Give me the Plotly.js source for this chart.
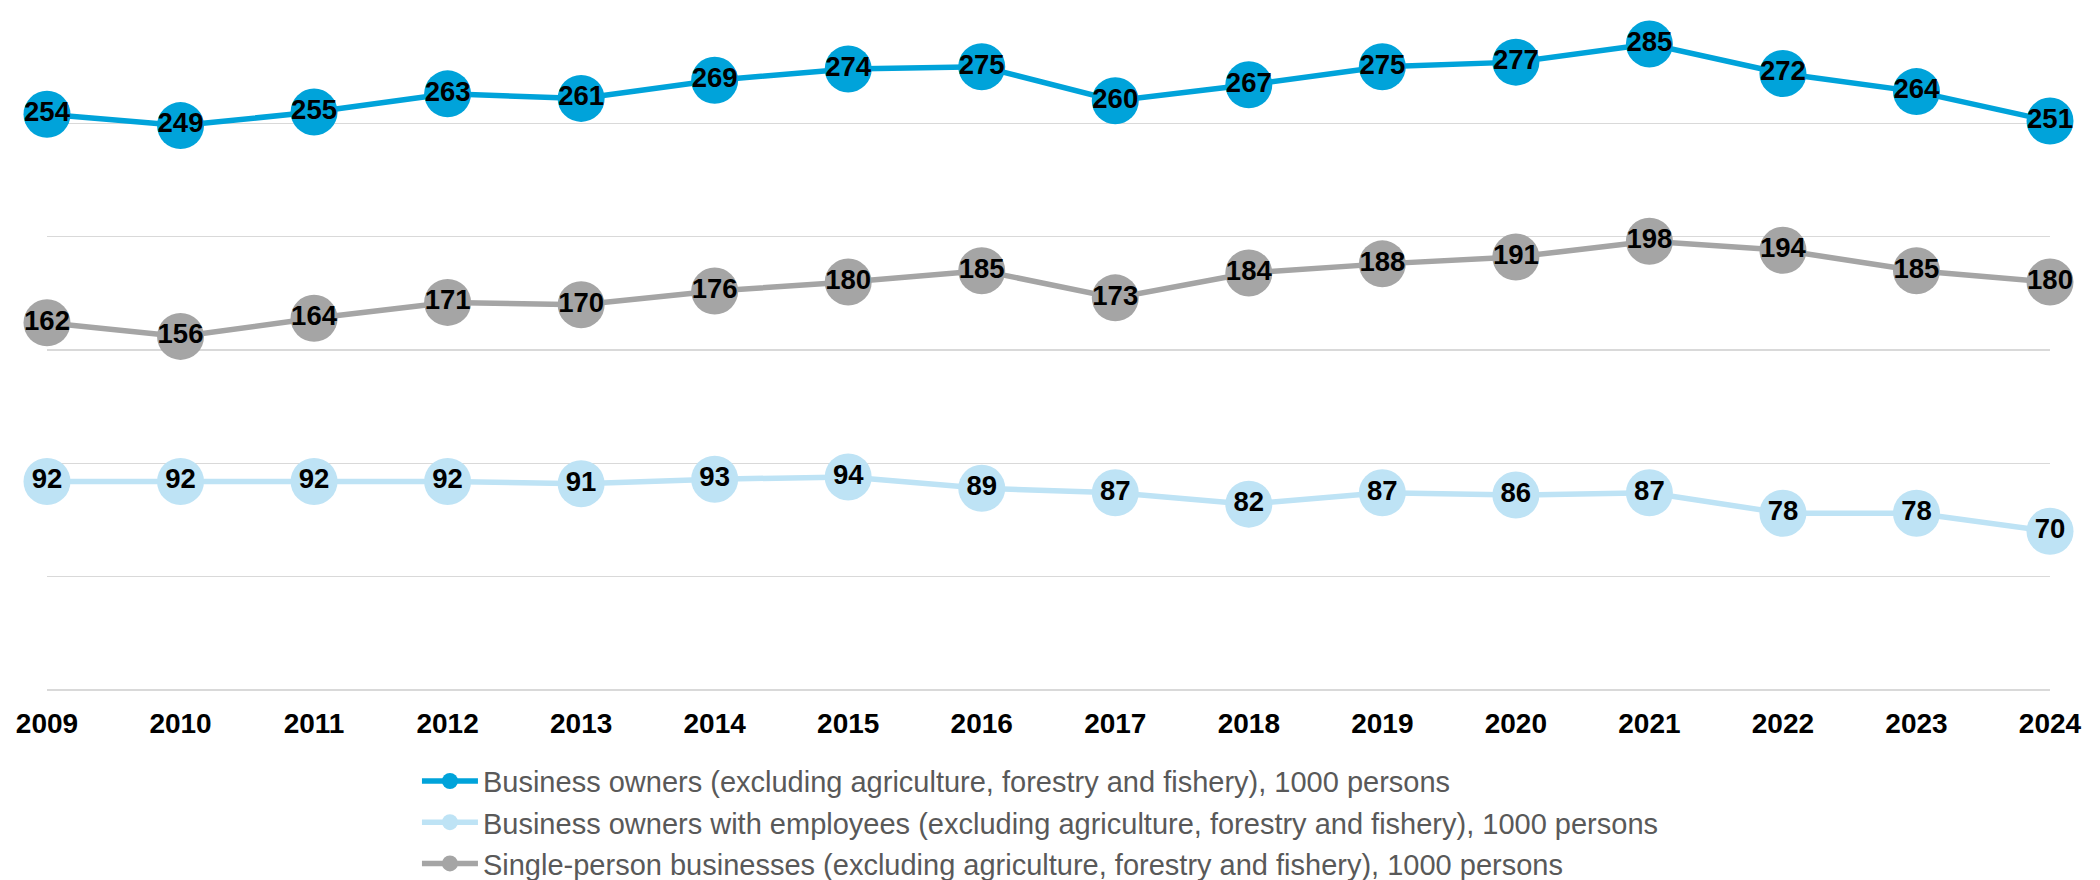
<!DOCTYPE html>
<html>
<head>
<meta charset="utf-8">
<script src="https://cdn.plot.ly/plotly-3.0.1.min.js"></script>
<style>
  html, body { margin: 0; padding: 0; background: #ffffff; }
  #chart { width: 2100px; height: 880px; }
</style>
</head>
<body>
<div id="chart"></div>
<script>
const years = [2009, 2010, 2011, 2012, 2013, 2014, 2015, 2016, 2017, 2018, 2019, 2020, 2021, 2022, 2023, 2024];
const businessOwners = [254, 249, 255, 263, 261, 269, 274, 275, 260, 267, 275, 277, 285, 272, 264, 251];
const withEmployees = [92, 92, 92, 92, 91, 93, 94, 89, 87, 82, 87, 86, 87, 78, 78, 70];
const singlePerson = [162, 156, 164, 171, 170, 176, 180, 185, 173, 184, 188, 191, 198, 194, 185, 180];
const seriesNames = [
  "Business owners (excluding agriculture, forestry and fishery), 1000 persons",
  "Business owners with employees (excluding agriculture, forestry and fishery), 1000 persons",
  "Single-person businesses (excluding agriculture, forestry and fishery), 1000 persons"
];
const yTicks = [0, 50, 100, 150, 200, 250, 300];

const colors = ["#00A3DA", "#BEE3F5", "#A5A5A5"];
const seriesData = [businessOwners, withEmployees, singlePerson];

const traces = seriesData.map((vals, i) => ({
  type: "scatter",
  mode: "lines+markers+text",
  x: years,
  y: vals,
  name: seriesNames[i],
  legendgroup: "g" + i,
  text: vals.map(v => String(v)),
  textposition: "middle center",
  textfont: { family: "Liberation Sans, Arial, sans-serif", size: 27.5, color: "#000000", weight: "bold" },
  line: { color: colors[i], width: 5.5 },
  marker: { color: colors[i], size: 47, line: { width: 0 } },
  cliponaxis: false,
  hoverinfo: "x+y+name"
}));

const layout = {
  width: 2100,
  height: 880,
  paper_bgcolor: "#ffffff",
  plot_bgcolor: "#ffffff",
  margin: { l: 47, r: 50, t: 10, b: 190, pad: 0 },
  font: { family: "Liberation Sans, Arial, sans-serif", color: "#000000" },
  showlegend: true,
  legend: {
    orientation: "v",
    xref: "paper",
    x: 0.1847,
    xanchor: "left",
    yref: "container",
    y: 0.1413,
    yanchor: "top",
    font: { family: "Liberation Sans, Arial, sans-serif", size: 29, color: "#595959" },
    tracegroupgap: 0.5,
    itemwidth: 56,
    bgcolor: "rgba(0,0,0,0)"
  },
  xaxis: {
    range: [2009, 2024],
    tickmode: "array",
    tickvals: years,
    ticktext: years.map(String),
    showgrid: false,
    zeroline: false,
    showline: false,
    ticks: "",
    tickfont: { family: "Liberation Sans, Arial, sans-serif", size: 28, color: "#000000", weight: "bold" },
    ticklabelstandoff: 14
  },
  yaxis: {
    range: [0, 300],
    tickmode: "array",
    tickvals: yTicks,
    showticklabels: false,
    showgrid: true,
    gridcolor: "#D9D9D9",
    gridwidth: 1.5,
    zeroline: true,
    zerolinecolor: "#D9D9D9",
    zerolinewidth: 1.5,
    showline: false,
    ticks: ""
  }
};

Plotly.newPlot("chart", traces, layout, { displayModeBar: false, staticPlot: true });
</script>
</body>
</html>
